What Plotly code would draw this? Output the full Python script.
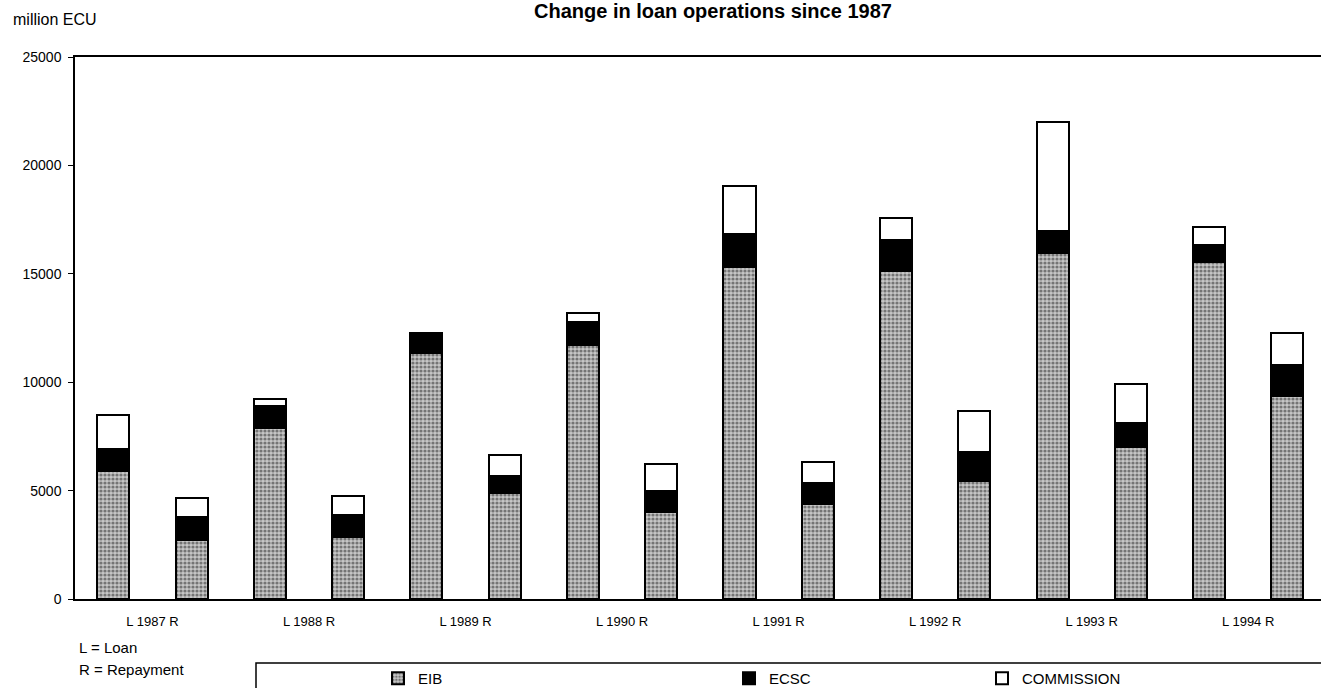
import plotly.graph_objects as go

# Loan (L) and repayment (R) per year, million ECU
years = [1987, 1988, 1989, 1990, 1991, 1992, 1993, 1994]
bar_ids = [f"{k} {y}" for y in years for k in ("L", "R")]

eib = [5925, 2700, 7880, 2855, 11365, 4885, 11720, 4010,
       15300, 4390, 15130, 5450, 15960, 7030, 15530, 9380]
ecsc = [985, 1105, 1025, 1015, 895, 810, 1075, 950,
        1535, 955, 1425, 1350, 1030, 1110, 810, 1415]
commission = [1580, 875, 310, 860, 0, 955, 415, 1260,
              2210, 995, 1030, 1875, 4990, 1780, 800, 1460]

tick_text = [f"L {y} R" for y in years]

_FONT = "Arial, 'Liberation Sans', sans-serif"
_W, _H = 1321, 688
_PL, _PR, _PT, _PB = 75, 1321, 57, 599  # wanted plot box, screen pixels


def px_x(px):
    return (px - _PL) / (_PR - _PL)


def px_y(py):
    return (_PB - py) / (_PB - _PT)


line = dict(color="black", width=2)

fig = go.Figure()
fig.add_trace(go.Bar(
    x=bar_ids, y=eib, name="EIB", legend="legend",
    marker=dict(color="#bcbcbc", line=line,
                pattern=dict(shape=".", fgcolor="#222222", bgcolor="#c6c6c6",
                             size=4, solidity=0.5)),
))
fig.add_trace(go.Bar(
    x=bar_ids, y=ecsc, name="ECSC", legend="legend2",
    marker=dict(color="black", line=line),
))
fig.add_trace(go.Bar(
    x=bar_ids, y=commission, name="COMMISSION", legend="legend3",
    marker=dict(color="white", line=line),
))

legend_common = dict(orientation="h", yanchor="top", y=px_y(662),
                     xanchor="left", bgcolor="rgba(0,0,0,0)",
                     font=dict(family=_FONT, size=15, color="black"))

fig.update_layout(
    width=_W, height=_H,
    margin=dict(l=_PL, r=_W - _PR, t=_PT, b=_H - _PB, autoexpand=False),
    barmode="stack",
    bargap=0.59,
    showlegend=True,
    paper_bgcolor="white",
    plot_bgcolor="white",
    font=dict(family=_FONT, size=13, color="black"),
    legend=dict(legend_common, x=px_x(378)),
    legend2=dict(legend_common, x=px_x(729)),
    legend3=dict(legend_common, x=px_x(982)),
    xaxis=dict(
        type="category",
        range=[-0.49, 15.43],
        tickvals=[i * 2 + 0.5 for i in range(len(years))],
        ticktext=tick_text,
        ticks="",
        showline=True, linecolor="black", linewidth=1.5, mirror=True,
        showgrid=False,
        ticklabelstandoff=10,
        tickfont=dict(size=13),
    ),
    yaxis=dict(
        range=[0, 25000],
        dtick=5000,
        tickformat="d",
        ticks="outside", ticklen=5, tickcolor="black",
        showline=True, linecolor="black", linewidth=1.5,
        showgrid=False, zeroline=False,
        ticklabelstandoff=4,
        tickfont=dict(size=14),
    ),
    shapes=[dict(type="rect", xref="paper", yref="paper",
                 x0=px_x(256), x1=px_x(1345), y0=px_y(663), y1=px_y(720),
                 line=dict(color="black", width=1.5))],
    annotations=[
        dict(text="<b>Change in loan operations since 1987</b>",
             xref="paper", yref="paper", x=px_x(713), y=px_y(11),
             xanchor="center", yanchor="middle", showarrow=False,
             font=dict(size=20)),
        dict(text="million ECU", xref="paper", yref="paper",
             x=px_x(11), y=px_y(20), xanchor="left", yanchor="middle",
             showarrow=False, font=dict(size=16)),
        dict(text="L = Loan", xref="paper", yref="paper",
             x=px_x(77), y=px_y(647), xanchor="left", yanchor="middle",
             showarrow=False, font=dict(size=15)),
        dict(text="R = Repayment", xref="paper", yref="paper",
             x=px_x(77), y=px_y(669), xanchor="left", yanchor="middle",
             showarrow=False, font=dict(size=15)),
    ],
)

# drop the default 8px page margin so the figure sits at the window's corner
fig.write_html("out.html", config={"displayModeBar": False},
               post_script="document.body.style.margin='0';")
